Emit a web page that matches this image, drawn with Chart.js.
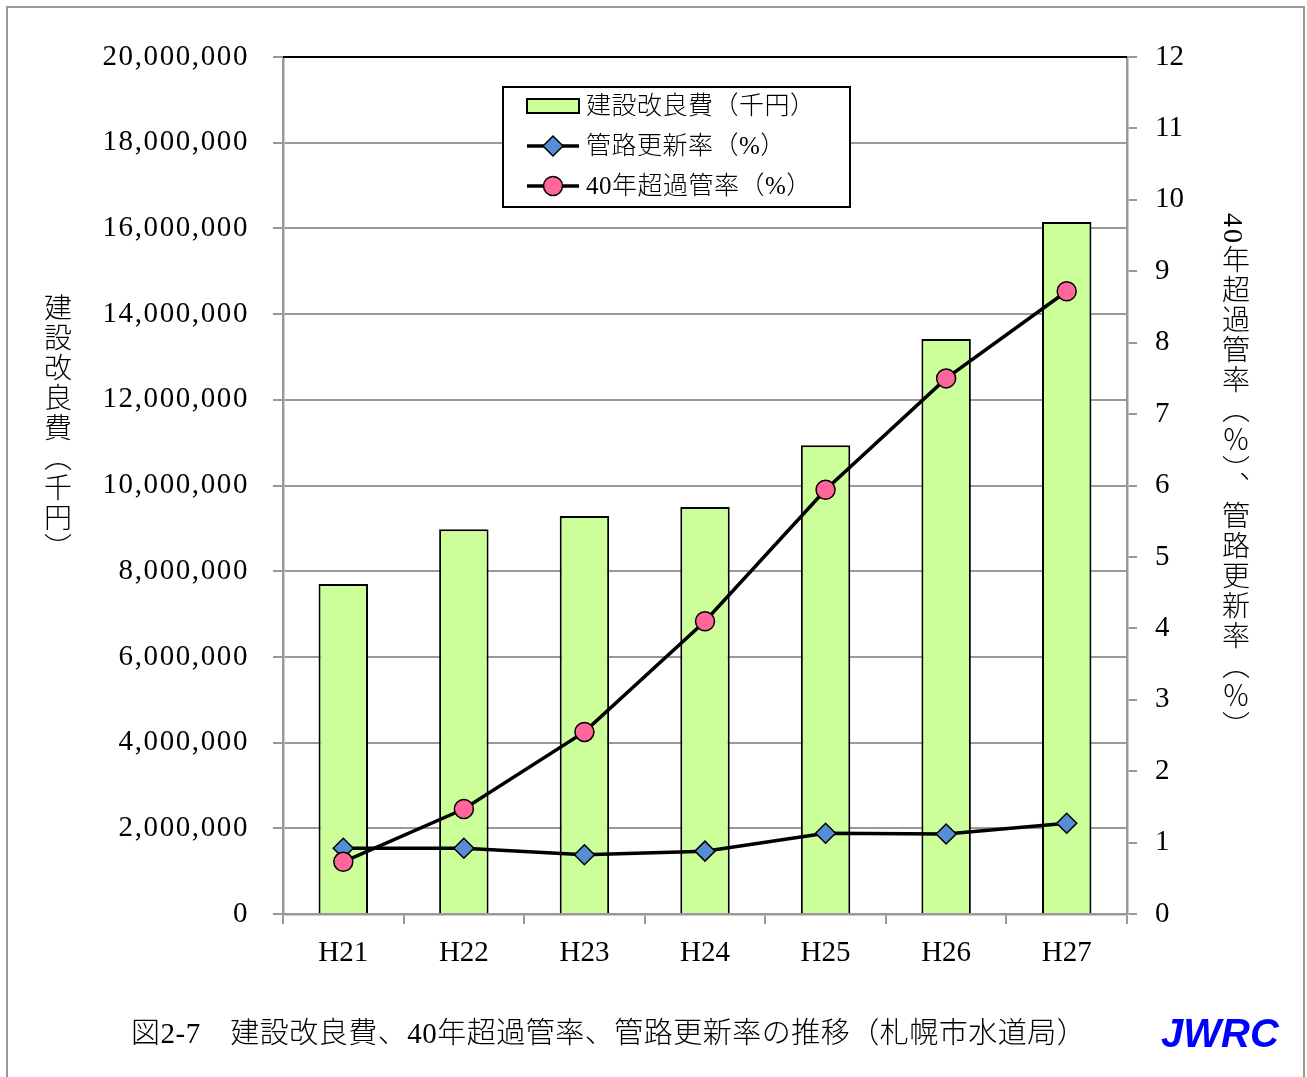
<!DOCTYPE html>
<html><head><meta charset="utf-8">
<script src="https://cdn.jsdelivr.net/npm/chart.js@4.4.1/dist/chart.umd.min.js"></script>
<style>
html,body{margin:0;padding:0;background:#fff;width:1307px;height:1077px;overflow:hidden;}
#wrap{position:relative;width:1307px;height:1077px;}
#frame{position:absolute;left:6px;top:6px;width:1299px;height:1100px;border:2px solid #999;box-sizing:border-box;}
#c{position:absolute;left:0;top:0;}
.vt{position:absolute;writing-mode:vertical-rl;text-orientation:mixed;font-family:"Liberation Serif","Noto Sans CJK JP";font-size:28px;line-height:28px;color:#000;white-space:nowrap;font-weight:300;letter-spacing:2px;}
#lt{left:41px;top:293px;}
#rt{left:1219px;top:213px;}
#cap{position:absolute;left:131px;top:1015px;font-family:"Liberation Serif","Noto Sans CJK JP";font-size:29px;line-height:36px;letter-spacing:0.5px;color:#000;white-space:nowrap;font-weight:300;}
#logo{position:absolute;left:1161px;top:1009px;font-family:"Liberation Sans",Arial,sans-serif;font-weight:bold;font-style:italic;font-size:40px;line-height:48px;color:#0000ff;white-space:nowrap;}
</style></head>
<body><div id="wrap">
<canvas id="c" width="1307" height="1077"></canvas>
<div id="frame"></div>
<div class="vt" id="lt">建設改良費（千円）</div>
<div class="vt" id="rt">40年超過管率（％）、管路更新率（％）</div>
<div id="cap">図2-7　建設改良費、40年超過管率、管路更新率の推移（札幌市水道局）</div>
<div id="logo">JWRC</div>
</div>
<script>
const categories = ['H21','H22','H23','H24','H25','H26','H27'];
const constructionCost = [7700000, 8980000, 9290000, 9500000, 10940000, 13420000, 16150000];
const renewalRate = [0.92, 0.92, 0.83, 0.88, 1.13, 1.12, 1.27];
const over40Rate = [0.73, 1.47, 2.55, 4.10, 5.94, 7.50, 8.72];
const seriesLabels = ['建設改良費（千円）', '管路更新率（%）', '40年超過管率（%）'];
const leftAxisMax = 20000000, leftAxisStep = 2000000;
const rightAxisMax = 12, rightAxisStep = 1;

const FONT_FAMILY = '"Liberation Serif","Noto Sans CJK JP"';
const tickFont = {family: FONT_FAMILY, size: 29};

class SpacedLinearScale extends Chart.LinearScale {
  drawLabels(chartArea) {
    const ctx = this.ctx;
    ctx.save();
    ctx.letterSpacing = '1.6px';
    super.drawLabels(chartArea);
    ctx.restore();
  }
}
SpacedLinearScale.id = 'spacedLinear';
SpacedLinearScale.defaults = Chart.LinearScale.defaults;
Chart.register(SpacedLinearScale);

const legendPlugin = {
  id: 'boxLegend',
  afterDraw(chart) {
    const ctx = chart.ctx;
    const x0 = 503, y0 = 87, w = 347, h = 120;
    ctx.save();
    ctx.fillStyle = '#fff';
    ctx.fillRect(x0, y0, w, h);
    ctx.strokeStyle = '#000';
    ctx.lineWidth = 2;
    ctx.strokeRect(x0, y0, w, h);
    const rows = [106, 146, 186];
    const sx1 = 527, sx2 = 579, tx = 586;
    chart.data.datasets.forEach((ds, i) => {
      const y = rows[i];
      if (ds.type === 'bar') {
        ctx.fillStyle = ds.backgroundColor;
        ctx.fillRect(sx1, y - 7, sx2 - sx1, 14);
        ctx.strokeStyle = ds.borderColor;
        ctx.lineWidth = 2;
        ctx.strokeRect(sx1, y - 7, sx2 - sx1, 14);
      } else {
        ctx.strokeStyle = ds.borderColor;
        ctx.lineWidth = ds.borderWidth;
        ctx.beginPath(); ctx.moveTo(sx1, y); ctx.lineTo(sx2, y); ctx.stroke();
        ctx.fillStyle = ds.pointBackgroundColor;
        ctx.strokeStyle = ds.pointBorderColor;
        ctx.lineWidth = ds.pointBorderWidth;
        Chart.helpers.drawPoint(ctx, {pointStyle: ds.pointStyle, radius: ds.pointRadius, rotation: 0, borderWidth: ds.pointBorderWidth}, (sx1 + sx2) / 2, y);
      }
      ctx.fillStyle = '#000';
      ctx.font = '300 25px ' + FONT_FAMILY;
      ctx.letterSpacing = '0.5px';
      ctx.textBaseline = 'middle';
      ctx.textAlign = 'left';
      ctx.fillText(ds.label, tx, y + 1);
    });
    ctx.restore();
  }
};

const topBorderPlugin = {
  id: 'topBorder',
  afterDraw(chart) {
    const {ctx, chartArea} = chart;
    ctx.save();
    ctx.strokeStyle = '#000';
    ctx.lineWidth = 2;
    ctx.beginPath();
    ctx.moveTo(chartArea.left, chartArea.top);
    ctx.lineTo(chartArea.right, chartArea.top);
    ctx.stroke();
    ctx.restore();
  }
};

new Chart(document.getElementById('c'), {
  data: {
    labels: categories,
    datasets: [
      {type: 'bar', label: seriesLabels[0], data: constructionCost, yAxisID: 'y',
       backgroundColor: '#ccff99', borderColor: '#000', borderWidth: 2,
       barPercentage: 0.41, categoryPercentage: 1, order: 3},
      {type: 'line', label: seriesLabels[1], data: renewalRate, yAxisID: 'y2',
       borderColor: '#000', borderWidth: 3.5, tension: 0, fill: false,
       pointStyle: 'rectRot', pointRadius: 10, pointBackgroundColor: '#558ed5',
       pointBorderColor: '#000', pointBorderWidth: 1.5, order: 2},
      {type: 'line', label: seriesLabels[2], data: over40Rate, yAxisID: 'y2',
       borderColor: '#000', borderWidth: 3.5, tension: 0, fill: false,
       pointStyle: 'circle', pointRadius: 9.5, pointBackgroundColor: '#ff6699',
       pointBorderColor: '#000', pointBorderWidth: 1.5, order: 1}
    ]
  },
  options: {
    responsive: false,
    animation: false,
    events: [],
    layout: {padding: {top: 57, left: 0, right: 0, bottom: 0}, autoPadding: false},
    plugins: {legend: {display: false}, tooltip: {enabled: false}, title: {display: false}},
    scales: {
      x: {
        offset: true,
        grid: {offset: true, drawOnChartArea: false, color: '#999', lineWidth: 2, tickLength: 10},
        border: {color: '#999', width: 2.5},
        ticks: {font: tickFont, color: '#000', padding: 12, maxRotation: 0},
        afterFit: s => { s.height = 163; }
      },
      y: {
        type: 'spacedLinear',
        position: 'left', min: 0, max: leftAxisMax,
        ticks: {stepSize: leftAxisStep, font: tickFont, color: '#000', padding: 24,
                callback: v => v.toLocaleString('en-US')},
        grid: {color: '#999', lineWidth: 2, tickLength: 10},
        border: {color: '#999', width: 2.5},
        afterFit: s => { s.width = 283; }
      },
      y2: {
        position: 'right', min: 0, max: rightAxisMax,
        ticks: {stepSize: rightAxisStep, font: tickFont, color: '#000', padding: 18},
        grid: {drawOnChartArea: false, color: '#999', lineWidth: 2, tickLength: 10},
        border: {color: '#999', width: 2.5},
        afterFit: s => { s.width = 180; }
      }
    }
  },
  plugins: [topBorderPlugin, legendPlugin]
});
</script>
</body></html>
